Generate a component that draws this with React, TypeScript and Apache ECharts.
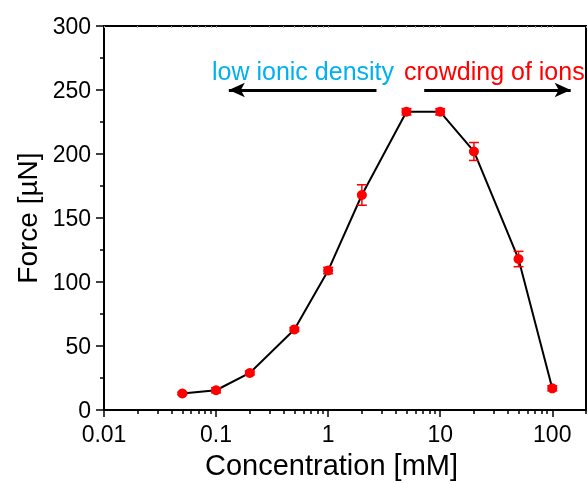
import React, { useEffect, useRef } from "react";
import * as echarts from "echarts";

const concentrations = [0.05, 0.1, 0.2, 0.5, 1, 2, 5, 10, 20, 50, 100];
const forceMean = [13, 15.5, 29, 63, 109, 168, 233, 233, 202, 118, 17];
const forceErr = [1, 2, 1.5, 1.5, 2.5, 8, 2.5, 2.5, 7, 6, 2];
const majorTicks = [0.01, 0.1, 1, 10, 100];
const minorTicks: number[] = [];
for (let d = -2; d <= 2; d++) {
  for (let k = 2; k <= 9; k++) {
    minorTicks.push(+(k * Math.pow(10, d)).toPrecision(3));
  }
}
const leftArrow = { from: [2.7, 250], to: [0.13, 250] };
const rightArrow = { from: [7.2, 250], to: [146, 250] };
const leftLabel = "low ionic density";
const rightLabel = "crowding of ions";
const xTitle = "Concentration [mM]";
const yTitle = "Force [µN]";

const FONT = "Liberation Sans, Arial, Helvetica, sans-serif";

export default function App() {
  const ref = useRef<HTMLDivElement>(null);
  useEffect(() => {
    if (!ref.current) return;
    const chart = echarts.init(ref.current, undefined, { renderer: "svg" });
    const pointData = concentrations.map((c, i) => [c, forceMean[i]]);
    const errData = concentrations.map((c, i) => [c, forceMean[i] - forceErr[i], forceMean[i] + forceErr[i]]);
    const fmt = (v: number) => String(+(+v).toPrecision(3));
    const common = { type: "log" as const, logBase: 10, min: 0.01, max: 200, gridIndex: 0 };
    chart.setOption({
      animation: false,
      textStyle: { fontFamily: FONT },
      grid: { left: 104, right: 2, top: 26, bottom: 70, show: true, borderColor: "#000", borderWidth: 2 },
      xAxis: [
        {
          ...common,
          position: "bottom",
          name: xTitle,
          nameLocation: "middle",
          nameGap: 36,
          nameTextStyle: { fontSize: 29, color: "#000", fontFamily: FONT, padding: [0, 27, 0, 0] },
          axisLine: { show: true, lineStyle: { color: "#000", width: 2 } },
          axisTick: { show: true, customValues: majorTicks, length: 7, lineStyle: { color: "#000", width: 1.5 } },
          axisLabel: { show: true, customValues: majorTicks, formatter: fmt, fontSize: 23, color: "#000", margin: 12, fontFamily: FONT },
          splitLine: { show: false },
          minorTick: { show: false },
        },
        {
          ...common,
          position: "bottom",
          axisLine: { show: false },
          axisTick: { show: true, customValues: minorTicks, length: 4, lineStyle: { color: "#000", width: 1.5 } },
          axisLabel: { show: false },
          splitLine: { show: false },
        },
        {
          ...common,
          position: "top",
          axisLine: { show: true, lineStyle: { color: "#000", width: 2 } },
          axisTick: { show: true, inside: true, customValues: minorTicks.concat(majorTicks), length: 2, lineStyle: { color: "#999", width: 1 } },
          axisLabel: { show: false },
          splitLine: { show: false },
        },
      ],
      yAxis: [
        {
          type: "value",
          min: 0,
          max: 300,
          interval: 50,
          name: yTitle,
          nameLocation: "middle",
          nameGap: 60,
          nameRotate: 90,
          nameTextStyle: { fontSize: 28, color: "#000", fontFamily: FONT },
          axisLine: { show: true, lineStyle: { color: "#000", width: 2 } },
          axisTick: { show: true, length: 8, lineStyle: { color: "#000", width: 1.5 } },
          minorTick: { show: true, splitNumber: 2, length: 4, lineStyle: { color: "#000", width: 1.5 } },
          axisLabel: { fontSize: 23, color: "#000", margin: 13, fontFamily: FONT },
          splitLine: { show: false },
        },
        {
          type: "value",
          min: 0,
          max: 300,
          interval: 50,
          position: "right",
          axisLine: { show: true, lineStyle: { color: "#000", width: 2 } },
          axisTick: { show: false },
          axisLabel: { show: false },
          splitLine: { show: false },
        },
      ],
      series: [
        {
          type: "line",
          xAxisIndex: 0,
          yAxisIndex: 0,
          data: pointData,
          smooth: false,
          symbol: "circle",
          symbolSize: 10,
          showAllSymbol: true,
          lineStyle: { color: "#000", width: 2 },
          itemStyle: { color: "#ff0000" },
          z: 3,
          markLine: {
            silent: true,
            symbol: ["none", "arrow"],
            symbolSize: [11, 16],
            lineStyle: { color: "#000", width: 3, type: "solid" },
            label: { show: false },
            data: [
              [{ coord: leftArrow.from }, { coord: leftArrow.to }],
              [{ coord: rightArrow.from }, { coord: rightArrow.to }],
            ],
          },
        },
        {
          type: "custom",
          xAxisIndex: 0,
          yAxisIndex: 0,
          data: errData,
          z: 4,
          renderItem: (params: any, api: any) => {
            const x = api.value(0);
            const lo = api.coord([x, api.value(1)]);
            const hi = api.coord([x, api.value(2)]);
            const w = 5;
            const style = { stroke: "#ff0000", lineWidth: 1.5 };
            return {
              type: "group",
              children: [
                { type: "line", shape: { x1: lo[0], y1: lo[1], x2: hi[0], y2: hi[1] }, style },
                { type: "line", shape: { x1: lo[0] - w, y1: lo[1], x2: lo[0] + w, y2: lo[1] }, style },
                { type: "line", shape: { x1: hi[0] - w, y1: hi[1], x2: hi[0] + w, y2: hi[1] }, style },
              ],
            };
          },
        },
      ],
      graphic: [
        {
          type: "text",
          left: 212,
          top: 58,
          style: { text: leftLabel, fill: "#00b0f0", fontSize: 25, fontFamily: FONT },
        },
        {
          type: "text",
          left: 404,
          top: 58,
          style: { text: rightLabel, fill: "#ff0000", fontSize: 25, fontFamily: FONT },
        },
      ],
    });
    return () => chart.dispose();
  }, []);
  return <div ref={ref} style={{ position: "fixed", left: 0, top: 0, width: 588, height: 484 }} />;
}
